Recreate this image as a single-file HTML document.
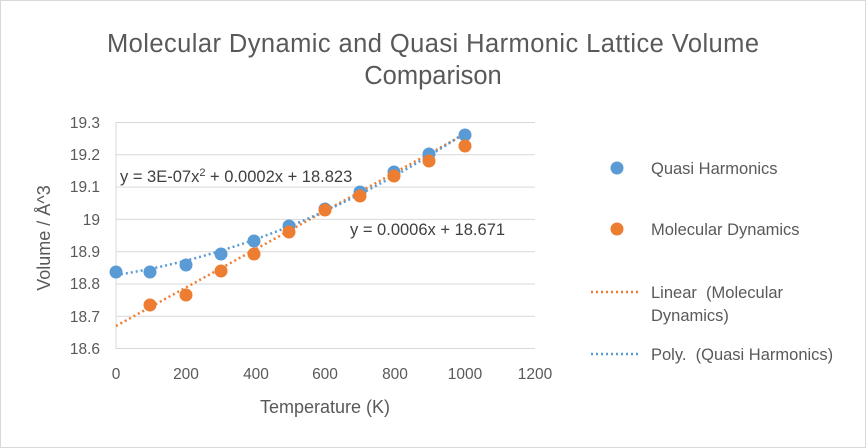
<!DOCTYPE html>
<html><head><meta charset="utf-8"><style>
body{margin:0;background:#fff}
svg{display:block;font-family:"Liberation Sans",sans-serif}
</style></head><body>
<svg width="866" height="448" viewBox="0 0 866 448">
<rect x="0.5" y="0.5" width="865" height="447" fill="#fff" stroke="#d9d9d9"/>
<text x="433" y="52" text-anchor="middle" font-size="25.5" fill="#595959" textLength="652">Molecular Dynamic and Quasi Harmonic Lattice Volume</text>
<text x="433" y="84" text-anchor="middle" font-size="25.5" fill="#595959">Comparison</text>
<g stroke="#d9d9d9" stroke-width="1">
<line x1="116" x2="535" y1="122.5" y2="122.5"/>
<line x1="116" x2="535" y1="154.8" y2="154.8"/>
<line x1="116" x2="535" y1="187.1" y2="187.1"/>
<line x1="116" x2="535" y1="219.4" y2="219.4"/>
<line x1="116" x2="535" y1="251.7" y2="251.7"/>
<line x1="116" x2="535" y1="284" y2="284"/>
<line x1="116" x2="535" y1="316.3" y2="316.3"/>
<line x1="116" x2="535" y1="348.5" y2="348.5"/>
<line x1="116" x2="116" y1="122" y2="349"/>
</g>
<g font-size="15.5" fill="#595959" text-anchor="end">
<text x="100" y="128">19.3</text><text x="100" y="160">19.2</text><text x="100" y="192">19.1</text>
<text x="100" y="225">19</text><text x="100" y="257">18.9</text><text x="100" y="289">18.8</text>
<text x="100" y="322">18.7</text><text x="100" y="354">18.6</text>
</g>
<g font-size="15.5" fill="#595959" text-anchor="middle">
<text x="116" y="379">0</text><text x="186" y="379">200</text><text x="256" y="379">400</text>
<text x="325" y="379">600</text><text x="395" y="379">800</text><text x="465" y="379">1000</text><text x="535" y="379">1200</text>
<text x="325" y="413" font-size="18">Temperature (K)</text>
</g>
<text transform="translate(50,238) rotate(-90)" text-anchor="middle" font-size="18" fill="#595959">Volume / Å^3</text>
<line x1="116" y1="326" x2="465" y2="134" stroke="#ed7d31" stroke-width="2.5" stroke-dasharray="2 3"/>
<path d="M116 275 Q290 248 465 133" fill="none" stroke="#5b9bd5" stroke-width="2.5" stroke-dasharray="2 3"/>
<g fill="#5b9bd5">
<circle cx="116" cy="272" r="6.5"/><circle cx="150" cy="272" r="6.5"/><circle cx="186" cy="265" r="6.5"/>
<circle cx="221" cy="254" r="6.5"/><circle cx="254" cy="241" r="6.5"/><circle cx="289" cy="226" r="6.5"/>
<circle cx="325" cy="209" r="6.5"/><circle cx="360" cy="192" r="6.5"/><circle cx="394" cy="172" r="6.5"/>
<circle cx="429" cy="154" r="6.5"/><circle cx="465" cy="135" r="6.5"/>
</g>
<g fill="#ed7d31">
<circle cx="150" cy="305" r="6.5"/><circle cx="186" cy="295" r="6.5"/>
<circle cx="221" cy="271" r="6.5"/><circle cx="254" cy="254" r="6.5"/><circle cx="289" cy="232" r="6.5"/>
<circle cx="325" cy="210" r="6.5"/><circle cx="360" cy="196" r="6.5"/><circle cx="394" cy="176" r="6.5"/>
<circle cx="429" cy="161" r="6.5"/><circle cx="465" cy="146" r="6.5"/>
</g>
<text x="120" y="182" font-size="16.5" fill="#404040">y = 3E-07x<tspan font-size="11" dy="-6">2</tspan><tspan dy="6"> + 0.0002x + 18.823</tspan></text>
<text x="350" y="235" font-size="16.5" fill="#404040">y = 0.0006x + 18.671</text>
<circle cx="617" cy="168" r="6.5" fill="#5b9bd5"/>
<circle cx="617" cy="229" r="6.5" fill="#ed7d31"/>
<line x1="591" y1="292" x2="641" y2="292" stroke="#ed7d31" stroke-width="2.5" stroke-dasharray="2 3"/>
<line x1="591" y1="354" x2="641" y2="354" stroke="#5b9bd5" stroke-width="2.5" stroke-dasharray="2 3"/>
<g font-size="16.5" fill="#595959">
<text x="651" y="174">Quasi Harmonics</text>
<text x="651" y="235">Molecular Dynamics</text>
<text x="651" y="298">Linear&#160; (Molecular</text>
<text x="651" y="321">Dynamics)</text>
<text x="651" y="360">Poly.&#160; (Quasi Harmonics)</text>
</g>
</svg>
</body></html>
